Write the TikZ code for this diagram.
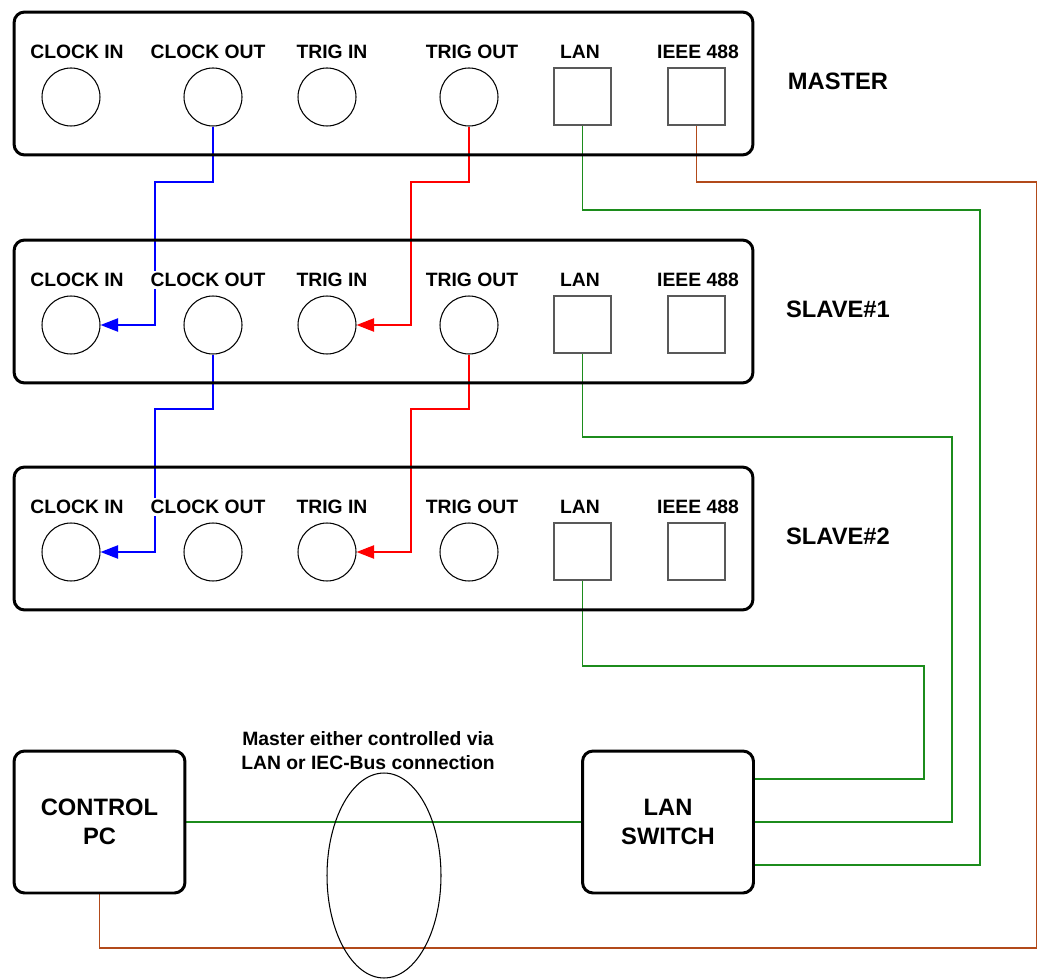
\documentclass[tikz,border=0pt]{standalone}
\usepackage{fontspec}
\setmainfont{Liberation Sans}
\usepackage{xcolor}
\usepackage{tikz}
\usetikzlibrary{shapes.geometric,arrows.meta,backgrounds}
\definecolor{langreen}{RGB}{28,140,28}
\definecolor{ieeebrown}{RGB}{178,74,26}

\begin{document}
\begin{tikzpicture}[x=0.02cm,y=-0.02cm,
  panel/.style={draw,line width=1.7pt,rounded corners=6pt,minimum width=14.78cm,minimum height=2.86cm},
  unit/.style={draw,line width=1.7pt,rounded corners=6pt,minimum width=3.42cm,minimum height=2.84cm,align=center,font=\fontsize{13.5}{16.5}\selectfont\bfseries},
  bnc/.style={circle,draw,line width=0.6pt,minimum size=1.16cm,inner sep=0pt},
  sock/.style={draw,black!65,line width=0.7pt,minimum size=1.14cm,inner sep=0pt},
  lbl/.style={fill=white,inner sep=1pt,font=\fontsize{11}{13}\selectfont\bfseries},
  ttl/.style={font=\fontsize{13.5}{16}\selectfont\bfseries},
  clk/.style={blue,line width=1.1pt,-{Triangle[length=10pt,width=7.5pt]}},
  trg/.style={red,line width=1.1pt,-{Triangle[length=10pt,width=7.5pt]}},
  lan/.style={langreen,line width=1.1pt},
  gpib/.style={ieeebrown,line width=1.1pt}
]
  \useasboundingbox (0,0) rectangle (1037,979);
  \foreach \p/\y/\t in {m/0/MASTER, s1/228/SLAVE\#1, s2/455/SLAVE\#2} {
    \node[panel] (\p) at (383.5,83.5+\y) {};
    \node[ttl] (\p-t) at (838,81+\y) {\t};
    \node[bnc] (\p-ci) at (71,97+\y) {};
    \node[bnc] (\p-co) at (213,97+\y) {};
    \node[bnc] (\p-ti) at (327,97+\y) {};
    \node[bnc] (\p-to) at (469,97+\y) {};
    \node[sock] (\p-lan) at (582.5,96.5+\y) {};
    \node[sock] (\p-gpib) at (696.5,96.5+\y) {};
    \node[lbl] (\p-cil) at (77,52+\y) {CLOCK IN};
    \node[lbl] (\p-col) at (208,52+\y) {CLOCK OUT};
    \node[lbl] (\p-til) at (332,52+\y) {TRIG IN};
    \node[lbl] (\p-tol) at (472,52+\y) {TRIG OUT};
    \node[lbl] (\p-lanl) at (580,52+\y) {LAN};
    \node[lbl] (\p-gpibl) at (698,52+\y) {IEEE 488};
  }
  \node[unit] (pc) at (99.5,822) {CONTROL\\PC};
  \node[unit] (sw) at (668,822) {LAN\\SWITCH};
  \node[font=\fontsize{11}{13.7}\selectfont\bfseries,align=center] (note) at (368,751)
    {Master either controlled via\\LAN or IEC-Bus connection};
  \node[draw,ellipse,line width=0.6pt,minimum width=2.28cm,minimum height=4.1cm] (bus) at (384,875.5) {};
  \begin{pgfonlayer}{background}
    % clock and trigger chain
    \draw[clk] (m-co.south) |- (155,182) |- (s1-ci.east);
    \draw[clk] (s1-co.south) |- (155,409) |- (s2-ci.east);
    \draw[trg] (m-to.south) |- (411,182) |- (s1-ti.east);
    \draw[trg] (s1-to.south) |- (411,409) |- (s2-ti.east);
    % network
    \draw[lan] (m-lan.south) |- (980,210) |- ([yshift=-0.86cm]sw.east);
    \draw[lan] (s1-lan.south) |- (952,437) |- (sw.east);
    \draw[lan] (s2-lan.south) |- (924,666) |- ([yshift=0.86cm]sw.east);
    \draw[lan] (pc) -- (sw);
    \draw[gpib] (m-gpib.south) |- (1036.5,182) |- (99.5,948) -- (pc.south);
  \end{pgfonlayer}
\end{tikzpicture}
\end{document}
